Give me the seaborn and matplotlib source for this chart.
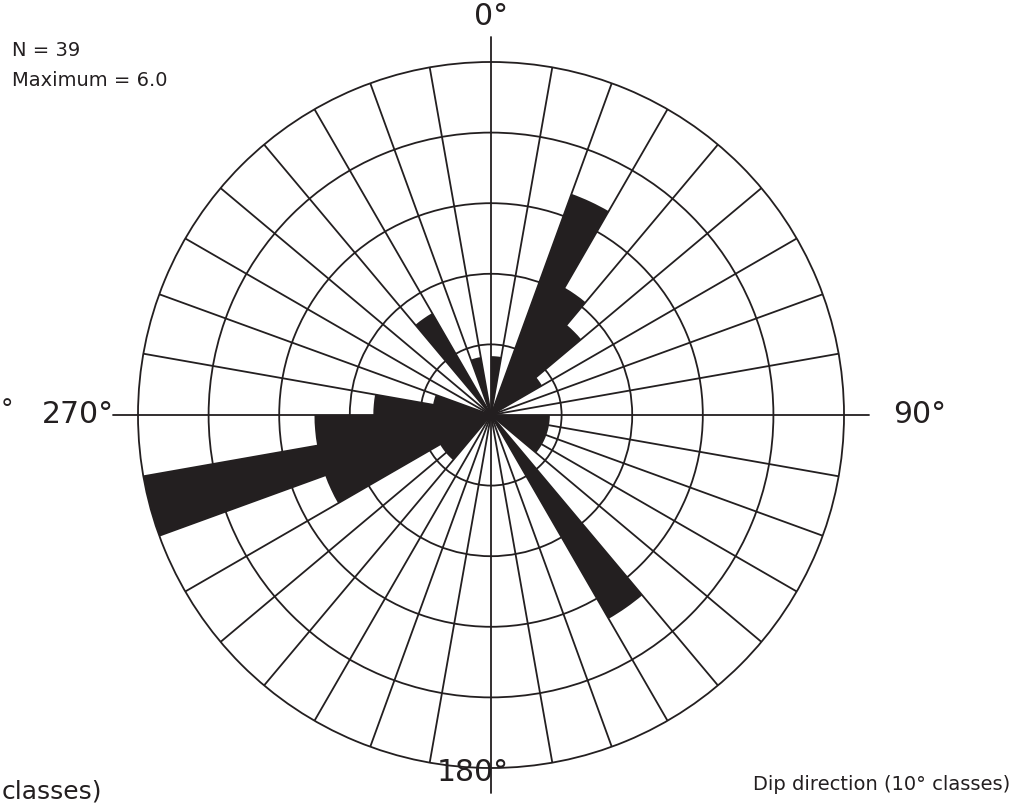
import numpy as np
import matplotlib
matplotlib.use("Agg")
import matplotlib.pyplot as plt
import seaborn as sns

# Dip-direction classes (start of each 10° class) and their counts
class_start_deg = list(range(0, 360, 10))
counts = [1, 0, 4, 2.5, 2, 1, 0, 0, 0,
          1, 1, 1, 1, 0, 4, 0, 0, 0,
          0, 0, 0, 0, 1, 1, 3, 6, 3,
          2, 1, 0, 0, 0, 2, 0, 1, 0]
ring_values = [1.2, 2.4, 3.6, 4.8]
r_max = 6.0
n_total = 39
cardinal_deg = [0, 90, 180, 270]
cardinal_labels = ["0°", "90°", "180°", "270°"]

ink = "#231f20"

sns.set_style("white")
plt.rcParams["font.family"] = ["DejaVu Sans"]

fig = plt.figure(figsize=(10.34, 8.09), dpi=100)
ax = fig.add_axes([0.13346, 0.05068, 0.6828, 0.8727], projection="polar")
ax.set_theta_zero_location("N")
ax.set_theta_direction(-1)

# petals: one wedge per 10° class, centred in the class
theta_mid = np.deg2rad(np.array(class_start_deg) + 5.0)
sns.barplot(x=theta_mid, y=counts, native_scale=True, width=1.0,
            color=ink, saturation=1, linewidth=0, edgecolor="none",
            ax=ax, zorder=3)

ax.set_xlabel("")
ax.set_ylabel("")
ax.set_ylim(0, r_max)
ax.set_yticks(ring_values)
ax.set_yticklabels([])
ax.set_xticks(np.deg2rad(np.arange(0, 360, 10)))
ax.set_xticklabels([])
ax.set_axisbelow(True)
ax.grid(True, color=ink, linewidth=1.3)
ax.spines["polar"].set_color(ink)
ax.spines["polar"].set_linewidth(1.3)

# cardinal ticks extending past the outer circle
for d in cardinal_deg:
    th = np.deg2rad(d)
    ax.plot([th, th], [r_max, r_max + 0.42], color=ink, lw=1.3,
            clip_on=False, zorder=4)

lab_kw = dict(fontsize=21.5, color=ink)
ax.text(0, 6.78, cardinal_labels[0], ha="center", va="center", **lab_kw)
ax.text(np.deg2rad(90), 6.83, cardinal_labels[1], ha="left", va="center", **lab_kw)
ax.text(np.deg2rad(180) + 0.05, 6.08, cardinal_labels[2], ha="center", va="center", **lab_kw)
ax.text(np.deg2rad(270), 6.40, cardinal_labels[3], ha="right", va="center", **lab_kw)

small = dict(fontsize=14, color=ink)
fig.text(12 / 1034, 1 - 50 / 809, f"N = {n_total}", ha="left", va="center", **small)
fig.text(12 / 1034, 1 - 80 / 809, f"Maximum = {r_max:.1f}", ha="left", va="center", **small)
fig.text(1010 / 1034, 1 - 785 / 809, "Dip direction (10° classes)",
         ha="right", va="center", **small)
# edge of the neighbouring panel
fig.text(102 / 1034, 1 - 791 / 809, "classes)", ha="right", va="center",
         fontsize=18, color=ink)
fig.text(0.5 / 1034, 1 - 410 / 809, "°", ha="left", va="center",
         fontsize=18, color=ink)

fig.savefig("out.png", dpi=100, facecolor="white")
